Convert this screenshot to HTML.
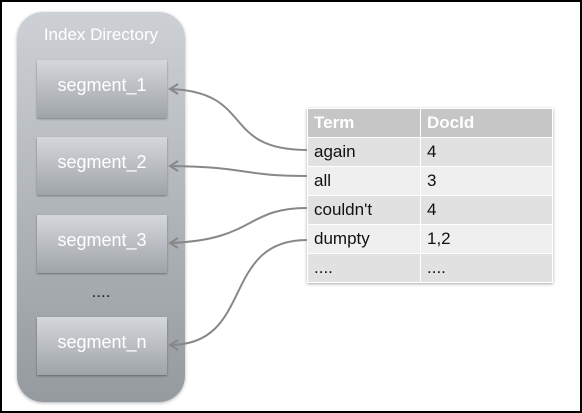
<!DOCTYPE html>
<html><head><style>
body{margin:0;width:582px;height:413px;overflow:hidden;background:#fff;font-family:"Liberation Sans",sans-serif;}
.frame{position:absolute;left:0;top:0;width:578px;height:409px;border:2px solid #000;}
.dir{position:absolute;left:17px;top:12px;width:168px;height:390px;border-radius:26px;background:linear-gradient(#cdd1d5,#959a9f);box-shadow:0 1px 3px rgba(0,0,0,.3);}
.dir .t{position:absolute;left:0;width:100%;top:13px;text-align:center;color:#fff;font-size:17px;}
.seg{position:absolute;left:37px;width:130px;height:58px;background:linear-gradient(#d4d7db,#9fa4a9);box-shadow:0 1px 2px rgba(0,0,0,.35);color:#fff;font-size:18px;text-align:center;line-height:50px;}
.dots{position:absolute;left:17px;width:168px;top:282px;text-align:center;font-size:17px;color:#222;}
table{position:absolute;left:307px;top:108px;border-collapse:collapse;width:246px;font-size:17px;box-shadow:0 1px 3px rgba(0,0,0,.35);}
td{height:28px;padding:0 0 0 6px;border:1px solid #fff;color:#111;}
tr.h td{background:#c6c6c6;color:#fff;font-weight:bold;}
tr.a td{background:#e1e1e1;}
tr.b td{background:#efefef;}
td:first-child{width:106px;}
</style></head><body>
<div class="frame"></div>
<div class="dir"><div class="t">Index Directory</div></div>
<div class="seg" style="top:60px">segment_1</div>
<div class="seg" style="top:137px">segment_2</div>
<div class="seg" style="top:215px">segment_3</div>
<div class="dots">....</div>
<div class="seg" style="top:317px">segment_n</div>
<table>
<tr class="h"><td>Term</td><td>DocId</td></tr>
<tr class="a"><td>again</td><td>4</td></tr>
<tr class="b"><td>all</td><td>3</td></tr>
<tr class="a"><td>couldn't</td><td>4</td></tr>
<tr class="b"><td>dumpty</td><td>1,2</td></tr>
<tr class="a"><td>....</td><td>....</td></tr>
</table>
<svg width="582" height="413" style="position:absolute;left:0;top:0">
<g fill="none" stroke="#888" stroke-width="2">
<path d="M307,150 C220,150 255,92 170,89"/>
<path d="M307,176 C240,176 250,167 170,166"/>
<path d="M307,208 C245,208 255,240 170,243"/>
<path d="M307,240 C220,240 255,345 170,345"/>
<path d="M178,84 L170,89 L178,94 M178,161 L170,166 L178,171 M178,238 L170,243 L178,248 M178,340 L170,345 L178,350"/>
</g></svg>
</body></html>
